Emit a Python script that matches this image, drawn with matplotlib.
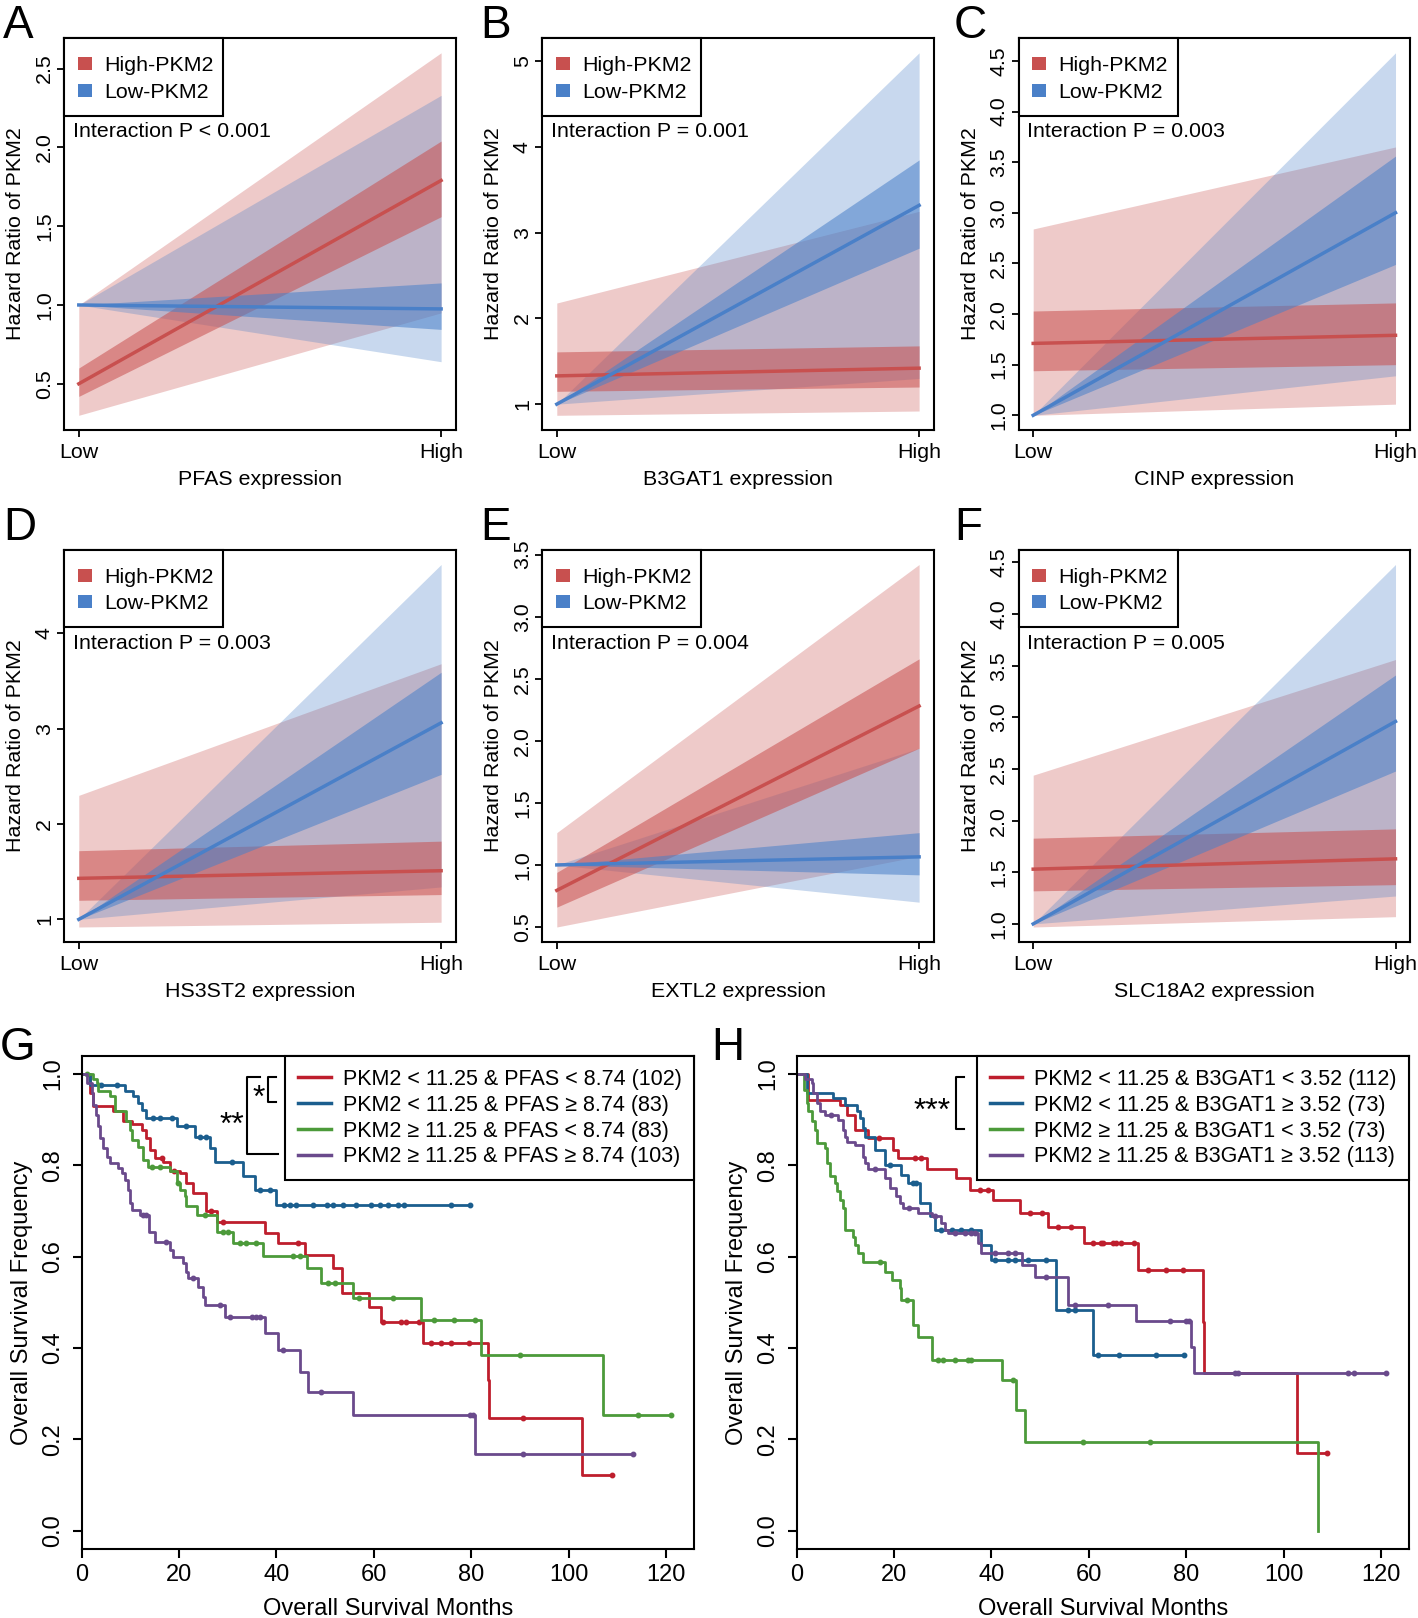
import numpy as np
import matplotlib.pyplot as plt
from matplotlib.patches import Rectangle
from matplotlib.lines import Line2D

plt.rcParams['font.family'] = ['Liberation Sans', 'DejaVu Sans']

W, H = 1418, 1618

# ---- panels A-F : hazard ratio of PKM2 vs gene expression (Low -> High) ----
genes = ['PFAS', 'B3GAT1', 'CINP', 'HS3ST2', 'EXTL2', 'SLC18A2']
letters_hr = ['A', 'B', 'C', 'D', 'E', 'F']
p_texts = ['Interaction P < 0.001', 'Interaction P = 0.001', 'Interaction P = 0.003',
           'Interaction P = 0.003', 'Interaction P = 0.004', 'Interaction P = 0.005']
yticks_hr = [[0.5, 1.0, 1.5, 2.0, 2.5], [1, 2, 3, 4, 5], [1.0, 1.5, 2.0, 2.5, 3.0, 3.5, 4.0, 4.5],
             [1, 2, 3, 4], [0.5, 1.0, 1.5, 2.0, 2.5, 3.0, 3.5], [1.0, 1.5, 2.0, 2.5, 3.0, 3.5, 4.0, 4.5]]
yfmt_hr = ['%.1f', '%d', '%.1f', '%d', '%.1f', '%.1f']
legend_hr = ['High-PKM2', 'Low-PKM2']

# (value at Low, value at High)
hi_line    = [(0.50, 1.79), (1.33, 1.42), (1.71, 1.79), (1.43, 1.51), (0.795, 2.28), (1.53, 1.63)]
hi_in_low  = [(0.42, 1.56), (1.15, 1.20), (1.44, 1.50), (1.20, 1.26), (0.66, 1.94), (1.32, 1.38)]
hi_in_up   = [(0.60, 2.04), (1.61, 1.68), (2.03, 2.11), (1.72, 1.82), (0.94, 2.66), (1.83, 1.92)]
hi_out_low = [(0.30, 0.95), (0.87, 0.92), (1.00, 1.11), (0.92, 0.97), (0.50, 1.07), (0.97, 1.07)]
hi_out_up  = [(1.00, 2.60), (2.18, 3.25), (2.84, 3.65), (2.30, 3.68), (1.26, 3.42), (2.44, 3.56)]
lo_line    = [(1.0, 0.975), (1.0, 3.32), (1.0, 3.00), (1.0, 3.06), (1.0, 1.065), (1.0, 2.96)]
lo_in_low  = [(1.0, 0.845), (1.0, 2.82), (1.0, 2.49), (1.0, 2.52), (1.0, 0.92), (1.0, 2.48)]
lo_in_up   = [(1.0, 1.14), (1.0, 3.85), (1.0, 3.56), (1.0, 3.59), (1.0, 1.26), (1.0, 3.41)]
lo_out_low = [(1.0, 0.64), (1.0, 1.30), (1.0, 1.39), (1.0, 1.34), (1.0, 0.70), (1.0, 1.27)]
lo_out_up  = [(1.0, 2.33), (1.0, 5.10), (1.0, 4.58), (1.0, 4.72), (1.0, 1.94), (1.0, 4.48)]

RED = '#C8504F'
BLUE = '#4A80C8'

# ---- panels G, H : Kaplan-Meier curves ----
km_colors = ['#BE1E2D', '#1B5E8E', '#4C9A3A', '#6A4A8C']
G_labels = ['PKM2 < 11.25 & PFAS < 8.74 (102)', 'PKM2 < 11.25 & PFAS \u2265 8.74 (83)',
            'PKM2 \u2265 11.25 & PFAS < 8.74 (83)', 'PKM2 \u2265 11.25 & PFAS \u2265 8.74 (103)']
H_labels = ['PKM2 < 11.25 & B3GAT1 < 3.52 (112)', 'PKM2 < 11.25 & B3GAT1 \u2265 3.52 (73)',
            'PKM2 \u2265 11.25 & B3GAT1 < 3.52 (73)', 'PKM2 \u2265 11.25 & B3GAT1 \u2265 3.52 (113)']

G_red_t = [0, 1.7, 2.4, 6.5, 8.5, 10.3, 12.3, 13.3, 14.0, 15.0, 16.8, 18.1, 20.2, 21.5, 22.9, 25.6, 27.7,
           37.6, 40.3, 45.8, 51.6, 53.5, 59.0, 61.5, 70.1, 83.4, 83.7, 102.8, 108.9]
G_red_s = [1.0, 0.958, 0.929, 0.918, 0.896, 0.89, 0.878, 0.86, 0.834, 0.816, 0.808, 0.787, 0.783, 0.761, 0.739,
           0.699, 0.677, 0.651, 0.629, 0.604, 0.575, 0.52, 0.49, 0.458, 0.412, 0.33, 0.247, 0.121, 0.121]
G_red_c = [16.5, 19.0, 26.5, 29.0, 44.5, 61.9, 65.6, 66.7, 69.3, 71.8, 73.8, 75.9, 79.5, 90.6, 108.9]

G_blue_t = [0, 1.7, 8.9, 10.6, 11.6, 12.3, 13.3, 19.5, 23.2, 26.3, 27.4, 33.2, 35.6, 40.0, 79.7]
G_blue_s = [1.0, 0.975, 0.962, 0.951, 0.936, 0.922, 0.904, 0.885, 0.862, 0.838, 0.808, 0.776, 0.746, 0.713, 0.713]
G_blue_c = [4.0, 7.2, 14.7, 16.1, 18.5, 21.5, 24.3, 25.6, 30.8, 36.6, 38.6, 41.5, 42.7, 44.1, 47.5, 50.3,
            51.6, 53.7, 56.4, 59.5, 61.2, 62.9, 65.0, 66.3, 75.9, 79.7]

G_green_t = [0, 2.4, 3.1, 3.4, 5.8, 6.8, 9.2, 9.9, 10.3, 11.6, 12.6, 13.7, 18.1, 19.5, 20.2, 21.2, 21.5,
             23.6, 27.7, 31.1, 37.3, 46.2, 49.2, 55.7, 69.7, 82.0, 107.1, 121.0]
G_green_s = [1.0, 0.988, 0.980, 0.962, 0.951, 0.918, 0.896, 0.878, 0.856, 0.841, 0.812, 0.797, 0.787, 0.761,
             0.746, 0.732, 0.71, 0.692, 0.655, 0.631, 0.602, 0.575, 0.542, 0.509, 0.461, 0.384, 0.254, 0.254]
G_green_c = [1.0, 14.4, 16.1, 19.8, 25.3, 29.1, 30.1, 32.5, 33.8, 35.9, 43.4, 44.8, 50.5, 52.0, 57.0, 63.9,
             72.3, 76.5, 80.7, 90.0, 114.3, 121.0]

G_purple_t = [0, 1.0, 2.1, 2.4, 3.0, 3.4, 3.8, 4.4, 5.1, 5.8, 7.5, 8.2, 8.9, 9.6, 9.9, 10.3, 12.0, 13.9, 15.0,
              18.1, 18.8, 20.9, 21.5, 21.9, 23.9, 24.9, 25.3, 29.4, 37.6, 40.3, 44.8, 46.5, 55.7, 80.7, 113.2]
G_purple_s = [1.0, 0.98, 0.958, 0.932, 0.91, 0.885, 0.86, 0.838, 0.819, 0.805, 0.794, 0.783, 0.768, 0.746,
              0.717, 0.702, 0.692, 0.655, 0.633, 0.615, 0.600, 0.586, 0.567, 0.553, 0.534, 0.512, 0.494,
              0.469, 0.432, 0.395, 0.348, 0.304, 0.254, 0.169, 0.169]
G_purple_c = [12.6, 13.3, 17.4, 22.9, 28.4, 30.4, 34.9, 35.9, 36.6, 41.4, 49.2, 79.7, 80.3, 90.6, 113.2]

H_red_t = [0, 2.4, 8.9, 10.3, 12.0, 14.7, 19.8, 20.9, 26.7, 32.8, 35.6, 40.3, 45.8, 51.6, 59.1, 70.1,
           83.4, 83.7, 102.8, 108.9]
H_red_s = [1.0, 0.944, 0.932, 0.91, 0.878, 0.86, 0.834, 0.816, 0.792, 0.772, 0.746, 0.723, 0.695, 0.666,
           0.629, 0.571, 0.458, 0.345, 0.170, 0.170]
H_red_c = [17.0, 24.3, 25.6, 37.6, 39.3, 47.9, 50.3, 53.7, 56.4, 60.9, 62.6, 62.9, 64.9, 65.6, 66.7, 69.3,
           72.1, 75.9, 79.3, 108.9]

H_blue_t = [0, 2.1, 7.5, 9.9, 12.3, 13.0, 13.7, 14.0, 16.1, 18.1, 21.5, 22.9, 25.3, 27.4, 28.4, 37.9, 40.0,
            53.3, 60.9, 79.6]
H_blue_s = [1.0, 0.958, 0.947, 0.932, 0.918, 0.904, 0.882, 0.863, 0.834, 0.801, 0.779, 0.761, 0.717, 0.688,
            0.659, 0.626, 0.593, 0.483, 0.385, 0.385]
H_blue_c = [19.1, 23.9, 24.6, 29.7, 31.8, 33.8, 35.9, 40.7, 43.4, 44.8, 47.5, 51.3, 55.7, 57.1, 61.9, 66.3,
            73.8, 79.6]

H_green_t = [0, 1.4, 2.1, 2.4, 3.1, 3.8, 4.1, 5.8, 6.2, 6.8, 7.9, 8.2, 8.9, 9.6, 9.9, 11.6, 12.0, 12.6, 13.7,
             18.1, 19.5, 21.2, 21.5, 23.9, 24.9, 27.7, 42.1, 45.1, 46.8, 107.1]
H_green_s = [1.0, 0.965, 0.936, 0.918, 0.896, 0.878, 0.849, 0.838, 0.805, 0.776, 0.761, 0.743, 0.724, 0.706,
             0.659, 0.644, 0.626, 0.607, 0.589, 0.567, 0.549, 0.531, 0.505, 0.450, 0.425, 0.374, 0.330,
             0.264, 0.194, 0.0]
H_green_c = [17.1, 22.6, 29.1, 30.1, 32.5, 35.2, 35.9, 44.4, 58.8, 72.5]

H_purple_t = [0, 1.7, 3.1, 3.4, 4.1, 4.8, 5.8, 8.5, 9.6, 9.9, 10.3, 12.0, 13.7, 14.0, 14.7, 18.1, 19.1, 20.5,
              21.2, 21.9, 25.0, 27.7, 29.7, 30.4, 31.1, 37.3, 37.9, 46.2, 48.9, 55.7, 69.7, 81.0, 81.7, 121.0]
H_purple_s = [1.0, 0.99, 0.980, 0.958, 0.936, 0.918, 0.91, 0.9, 0.878, 0.863, 0.852, 0.845, 0.819, 0.804,
              0.793, 0.772, 0.75, 0.732, 0.717, 0.706, 0.695, 0.688, 0.673, 0.659, 0.651, 0.629, 0.607,
              0.582, 0.556, 0.494, 0.460, 0.403, 0.345, 0.345]
H_purple_c = [7.0, 16.0, 23.0, 28.5, 32.5, 34.5, 35.9, 36.6, 40.7, 43.4, 44.8, 51.3, 57.1, 63.9, 76.6, 79.9,
              80.6, 90.0, 90.6, 113.2, 114.5, 121.0]

G_curves = [(G_red_t, G_red_s, G_red_c), (G_blue_t, G_blue_s, G_blue_c),
            (G_green_t, G_green_s, G_green_c), (G_purple_t, G_purple_s, G_purple_c)]
H_curves = [(H_red_t, H_red_s, H_red_c), (H_blue_t, H_blue_s, H_blue_c),
            (H_green_t, H_green_s, H_green_c), (H_purple_t, H_purple_s, H_purple_c)]

AXW, AXH = 391.3, 391.5  # HR panel size in pixels
FS = 15.4


def add_ax(fig, left, top, width, height):
    # pixel box -> figure fraction
    return fig.add_axes([left / W, 1 - (top + height) / H, width / W, height / H])


def draw_hr(ax, i):
    x = [0, 1]
    ax.fill_between(x, hi_out_low[i], hi_out_up[i], color=RED, alpha=0.3, lw=0)
    ax.fill_between(x, lo_out_low[i], lo_out_up[i], color=BLUE, alpha=0.3, lw=0)
    ax.fill_between(x, hi_in_low[i], hi_in_up[i], color=RED, alpha=0.55, lw=0)
    ax.fill_between(x, lo_in_low[i], lo_in_up[i], color=BLUE, alpha=0.55, lw=0)
    ax.plot(x, hi_line[i], color=RED, lw=2.5)
    ax.plot(x, lo_line[i], color=BLUE, lw=2.5)
    vals = np.array([hi_out_low[i], hi_out_up[i], lo_out_low[i], lo_out_up[i]]).ravel()
    ext = 0.04 * (vals.max() - vals.min())
    ax.set_ylim(vals.min() - ext, vals.max() + ext)
    ax.set_xlim(-0.04, 1.04)
    ax.set_xticks([0, 1])
    ax.set_xticklabels(['Low', 'High'])
    ax.set_yticks(yticks_hr[i])
    ax.set_yticklabels([yfmt_hr[i] % v for v in yticks_hr[i]], rotation=90, va='center')
    ax.tick_params(direction='out', length=5, width=1.3, labelsize=FS, pad=2.5)
    ax.tick_params(axis='x', pad=4.5)
    for s in ax.spines.values():
        s.set_linewidth(1.5)
    ax.set_xlabel(genes[i] + ' expression', fontsize=FS)
    ax.xaxis.set_label_coords(0.5, -0.103)
    ax.set_ylabel('Hazard Ratio of PKM2', fontsize=FS)
    ax.yaxis.set_label_coords(-0.1, 0.5)
    # legend box drawn by hand (pixel sizes from the reference)
    bw, bh = 159 / AXW, 77.4 / AXH
    ax.add_patch(Rectangle((0, 1 - bh), bw, bh, transform=ax.transAxes, facecolor='white',
                           edgecolor='black', lw=1.5, zorder=5, clip_on=False))
    for k, (lab, col) in enumerate(zip(legend_hr, [RED, BLUE])):
        yc = 1 - (25.4 + 26.3 * k) / AXH
        ax.add_patch(Rectangle((13.7 / AXW, yc - 6.5 / AXH), 14 / AXW, 13 / AXH, transform=ax.transAxes,
                               facecolor=col, edgecolor='none', zorder=6))
        ax.text(39.5 / AXW, yc, lab, transform=ax.transAxes, fontsize=FS, va='center_baseline',
                ha='left', zorder=6)
    ax.text(0.022, 0.761, p_texts[i], transform=ax.transAxes, fontsize=FS, va='center', ha='left')


def draw_km(ax, curves, labels):
    tmax = 0
    for (t, s, c), col in zip(curves, km_colors):
        t = np.array(t)
        s = np.array(s)
        ax.plot(t, s, drawstyle='steps-post', color=col, lw=2.0)
        c = np.array(c)
        cy = s[np.searchsorted(t, c, side='right') - 1]
        ax.plot(c, cy, 'o', color=col, ms=3.2, mec=col)
        tmax = max(tmax, t.max())
    ax.set_xlim(0, tmax * 1.04)
    ax.set_ylim(-0.04, 1.04)
    ax.set_xticks([0, 20, 40, 60, 80, 100, 120])
    ax.set_yticks([0.0, 0.2, 0.4, 0.6, 0.8, 1.0])
    ax.set_yticklabels(['%.1f' % v for v in [0.0, 0.2, 0.4, 0.6, 0.8, 1.0]], rotation=90, va='center')
    ax.tick_params(direction='out', length=6.5, width=1.5, labelsize=17, pad=4.5)
    ax.tick_params(axis='y', pad=6)
    for s in ax.spines.values():
        s.set_linewidth(1.5)
    ax.set_xlabel('Overall Survival Months', fontsize=17)
    ax.xaxis.set_label_coords(0.5, -0.1)
    ax.set_ylabel('Overall Survival Frequency', fontsize=17)
    ax.yaxis.set_label_coords(-0.08, 0.5)
    handles = [Line2D([], [], color=c, lw=2.5) for c in km_colors]
    leg = ax.legend(handles, labels, loc='upper right', bbox_to_anchor=(1, 1), borderaxespad=0,
                    fancybox=False, edgecolor='black', framealpha=1, fontsize=15.5,
                    handlelength=1.5, handletextpad=0.55, labelspacing=0.23, borderpad=0.6)
    leg.get_frame().set_linewidth(1.5)


fig = plt.figure(figsize=(W / 100, H / 100), dpi=100)

col_left = [64.3, 542.3, 1018.7]
row_top = [38.3, 550]
letter_x = [3, 480, 954]
letter_base = [38, 540]
for i in range(6):
    r, c = divmod(i, 3)
    ax = add_ax(fig, col_left[c], row_top[r], AXW, AXH)
    draw_hr(ax, i)
    fig.text(letter_x[c] / W, 1 - letter_base[r] / H, letters_hr[i], fontsize=33, va='baseline', ha='left')

axG = add_ax(fig, 81.7, 1055.7, 612.6, 493.3)
draw_km(axG, G_curves, G_labels)
axH = add_ax(fig, 796.7, 1055.7, 612.6, 493.3)
draw_km(axH, H_curves, H_labels)
fig.text(0 / W, 1 - 1060 / H, 'G', fontsize=33, va='baseline', ha='left')
fig.text(711 / W, 1 - 1060 / H, 'H', fontsize=33, va='baseline', ha='left')

# significance brackets
kw = dict(color='black', lw=1.5, clip_on=False)
axG.plot([36.6, 34.0, 34.0, 40.3], [0.993, 0.993, 0.824, 0.824], **kw)
axG.plot([40.0, 38.3, 38.3, 40.0], [0.993, 0.993, 0.939, 0.939], **kw)
axG.text(36.4, 0.946, '*', fontsize=23, ha='center', va='center')
axG.text(30.8, 0.887, '**', fontsize=23, ha='center', va='center')
axH.plot([34.4, 32.7, 32.7, 34.4], [0.993, 0.993, 0.879, 0.879], **kw)
axH.text(27.8, 0.916, '***', fontsize=23, ha='center', va='center')

fig.savefig('out.png', dpi=100)
